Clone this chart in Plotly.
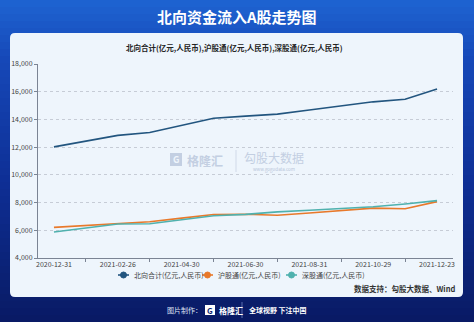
import plotly.graph_objects as go

# ---------------- data ----------------
dates = ["2020-12-31", "2021-01-29", "2021-02-26", "2021-03-31", "2021-04-30",
         "2021-05-31", "2021-06-30", "2021-07-30", "2021-08-31", "2021-09-30",
         "2021-10-29", "2021-11-30", "2021-12-23"]
north_total = [12020, 12430, 12850, 13060, 13580, 14090, 14240, 14380, 14680,
               14980, 15270, 15460, 16190]
sh_connect = [6210, 6350, 6480, 6620, 6880, 7140, 7160, 7080, 7250, 7420,
              7600, 7550, 8070]
sz_connect = [5880, 6170, 6450, 6470, 6760, 7050, 7150, 7330, 7450, 7560,
              7700, 7900, 8140]
series_names = ["北向合计(亿元,人民币)", "沪股通(亿元,人民币)", "深股通(亿元,人民币)"]
y_ticks = [4000, 6000, 8000, 10000, 12000, 14000, 16000, 18000]

# ---------------- style ----------------
W, H = 474, 322
L, R, T, B = 38, 453, 64, 258
colors = ["#22557f", "#e8792b", "#4fb1ae"]
FONT = "Noto Sans CJK SC"


def px(x):
    return (x - L) / (R - L)


def py(y):
    return (B - y) / (B - T)


fig = go.Figure()
xi = list(range(len(dates)))
for vals, name, c in zip([north_total, sh_connect, sz_connect], series_names, colors):
    fig.add_trace(go.Scatter(x=xi, y=vals, mode="lines", name=name,
                             line=dict(color=c, width=1.6), showlegend=False,
                             hovertemplate="%{text}<br>%{y:,}<extra>" + name + "</extra>",
                             text=dates))

shapes = []
# background gradient bands
stops = [(0, (30, 100, 210)), (60, (22, 72, 184)), (180, (14, 47, 150)), (322, (9, 26, 100))]


def col_at(y):
    for (y0, c0), (y1, c1) in zip(stops[:-1], stops[1:]):
        if y0 <= y <= y1:
            t = (y - y0) / (y1 - y0)
            return "rgb(%d,%d,%d)" % tuple(round(a + (b - a) * t) for a, b in zip(c0, c1))
    return "rgb(%d,%d,%d)" % stops[-1][1]


n = 46
for i in range(n):
    y0 = H * i / n
    y1 = H * (i + 1) / n + 0.8
    shapes.append(dict(type="rect", xref="paper", yref="paper", x0=px(0), x1=px(W),
                       y0=py(y0), y1=py(y1), fillcolor=col_at((y0 + y1) / 2),
                       line=dict(width=0), layer="below"))
# white panel with rounded corners
x0p, x1p, y0p, y1p, r = 10, 463, 33, 297, 5
path = ("M {a},{b} L {c},{b} Q {d},{b} {d},{e} L {d},{f} Q {d},{g} {c},{g} "
        "L {a},{g} Q {h},{g} {h},{f} L {h},{e} Q {h},{b} {a},{b} Z").format(
    a=px(x0p + r), b=py(y0p), c=px(x1p - r), d=px(x1p), e=py(y0p + r),
    f=py(y1p - r), g=py(y1p), h=px(x0p))
shapes.append(dict(type="path", xref="paper", yref="paper", path=path,
                   fillcolor="#eef5fc", line=dict(width=0), layer="below"))

annotations = []
# titles
annotations.append(dict(text="<b>北向资金流入A股走势图</b>", x=px(237), y=py(17), xref="paper", yref="paper",
                        showarrow=False, font=dict(family=FONT, size=15, color="white"),
                        xanchor="center", yanchor="middle"))
annotations.append(dict(text="<b>北向合计(亿元,人民币),沪股通(亿元,人民币),深股通(亿元,人民币)</b>",
                        x=px(234), y=py(47), xref="paper", yref="paper", showarrow=False,
                        font=dict(family=FONT, size=7.5, color="#222"),
                        xanchor="center", yanchor="middle"))
annotations.append(dict(text="<b>数据支持：勾股大数据、Wind</b>", x=px(457), y=py(288),
                        xref="paper", yref="paper", showarrow=False,
                        font=dict(family=FONT, size=7.5, color="#333"),
                        xanchor="right", yanchor="middle"))

# manual legend
leg_x = [118, 202, 286]
for lx, name, c in zip(leg_x, series_names, colors):
    shapes.append(dict(type="line", xref="paper", yref="paper", x0=px(lx), x1=px(lx + 11),
                       y0=py(275), y1=py(275), line=dict(color=c, width=1.6)))
    shapes.append(dict(type="circle", xref="paper", yref="paper", x0=px(lx + 2.5), x1=px(lx + 8.5),
                       y0=py(272), y1=py(278), fillcolor=c, line=dict(color=c, width=1)))
    annotations.append(dict(text=name, x=px(lx + 14), y=py(275), xref="paper", yref="paper",
                            showarrow=False, font=dict(family=FONT, size=7, color="#444"),
                            xanchor="left", yanchor="middle"))

# watermark
shapes.append(dict(type="rect", xref="paper", yref="paper", x0=px(170), x1=px(182),
                   y0=py(153), y1=py(166), fillcolor="#c3cfe2", line=dict(width=0), layer="below"))
annotations.append(dict(text="<b>G</b>", x=px(176), y=py(159.5), xref="paper", yref="paper",
                        showarrow=False, font=dict(family=FONT, size=9, color="#eef5fc"),
                        xanchor="center", yanchor="middle"))
annotations.append(dict(text="<b>格隆汇</b>", x=px(205), y=py(160), xref="paper", yref="paper",
                        showarrow=False, font=dict(family=FONT, size=12, color="#c3cfe2"),
                        xanchor="center", yanchor="middle"))
shapes.append(dict(type="line", xref="paper", yref="paper", x0=px(236), x1=px(236),
                   y0=py(150), y1=py(172), line=dict(color="#d0d9e8", width=1), layer="below"))
annotations.append(dict(text="勾股大数据", x=px(274), y=py(157), xref="paper", yref="paper",
                        showarrow=False, font=dict(family=FONT, size=12, color="#c3cfe2"),
                        xanchor="center", yanchor="middle"))
annotations.append(dict(text="www.gogudata.com", x=px(274), y=py(169), xref="paper", yref="paper",
                        showarrow=False, font=dict(family=FONT, size=4.5, color="#b8c5da"),
                        xanchor="center", yanchor="middle"))

# footer
annotations.append(dict(text="图片制作：", x=px(204), y=py(310), xref="paper", yref="paper",
                        showarrow=False, font=dict(family=FONT, size=7, color="#dfe6f5"),
                        xanchor="right", yanchor="middle"))
shapes.append(dict(type="rect", xref="paper", yref="paper", x0=px(205), x1=px(215),
                   y0=py(305), y1=py(315), fillcolor="#ffffff", line=dict(width=0)))
annotations.append(dict(text="<b>G</b>", x=px(210), y=py(310), xref="paper", yref="paper",
                        showarrow=False, font=dict(family=FONT, size=8, color="#0b1f72"),
                        xanchor="center", yanchor="middle"))
annotations.append(dict(text="<b>格隆汇</b>", x=px(217), y=py(310), xref="paper", yref="paper",
                        showarrow=False, font=dict(family=FONT, size=8, color="white"),
                        xanchor="left", yanchor="middle"))
shapes.append(dict(type="line", xref="paper", yref="paper", x0=px(242), x1=px(242),
                   y0=py(302), y1=py(318), line=dict(color="#5a6fb0", width=1)))
annotations.append(dict(text="<b>全球视野 下注中国</b>", x=px(247), y=py(310), xref="paper", yref="paper",
                        showarrow=False, font=dict(family=FONT, size=7, color="white"),
                        xanchor="left", yanchor="middle"))

fig.update_layout(
    width=W, height=H,
    margin=dict(l=L, r=W - R, t=T, b=H - B),
    paper_bgcolor="#0a1a64", plot_bgcolor="rgba(0,0,0,0)",
    font=dict(family=FONT, size=7, color="#444"),
    showlegend=False,
    shapes=shapes, annotations=annotations,
    xaxis=dict(range=[-0.5, len(dates) - 0.5], tickmode="array",
               tickvals=xi[::2], ticktext=dates[::2], ticks="",
               showgrid=False, zeroline=False, showline=True, linecolor="#7b8494",
               linewidth=1, tickfont=dict(size=7, color="#444"),
               minor=dict(tickmode="array", tickvals=xi[1::2], ticks="outside",
                          ticklen=3, tickcolor="#7b8494", showgrid=False)),
    yaxis=dict(range=[y_ticks[0], y_ticks[-1]], tickmode="array", tickvals=y_ticks,
               tickformat=",", ticks="outside", ticklen=3, tickcolor="#7b8494",
               showline=True, linecolor="#7b8494", linewidth=1, zeroline=False,
               showgrid=True, gridcolor="#c6ccd6", griddash="dot", gridwidth=1,
               tickfont=dict(size=7, color="#444")),
)

fig.write_html("out.html")
